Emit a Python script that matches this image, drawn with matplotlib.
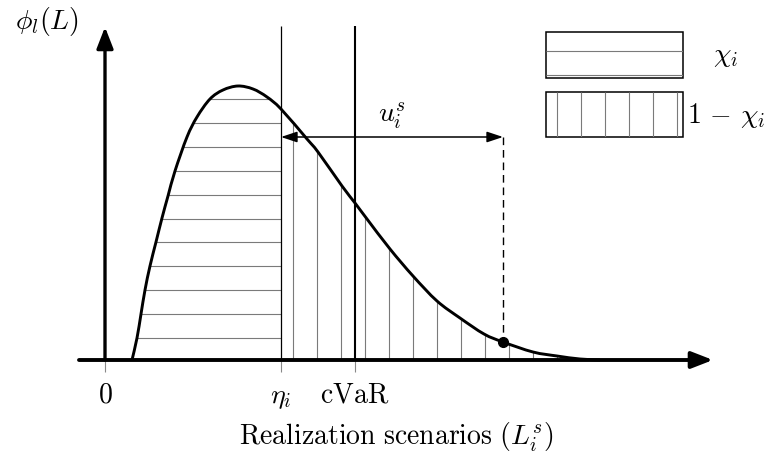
import numpy as np
import matplotlib
matplotlib.use('Agg')
from matplotlib import pyplot as plt
from matplotlib.patches import PathPatch, Rectangle
from matplotlib.path import Path

plt.rcParams['mathtext.fontset'] = 'cm'

# loss density curve (L, phi(L)), in picture units
loss = [27, 32, 36, 40, 45, 51, 57, 63, 70, 82, 92, 105, 118, 133, 148, 162, 176,
        202, 213, 237, 250, 262, 285, 308, 332, 355, 379, 398, 428, 452, 475, 495]
density = [0, 22, 46, 70, 94, 118, 142, 164, 189, 223, 243, 261, 270, 274, 271, 263, 251,
           221, 208, 174, 157, 141, 111, 84, 59, 42, 26, 18, 8, 4, 1, 0]

# marked positions on the loss axis
eta = 176
cvar = 250
u_loss = 398
u_density = 18
tick_pos = [0, eta, cvar]
tick_labels = [r'$0$', r'$\eta_i$', r'$\mathrm{cVaR}$']

# hatch grid (shared by the area under the curve and the legend swatches)
h_rows = np.arange(22, 340, 23.9)
v_cols = np.arange(188, 600, 24)
hatch_col = '#7a7a7a'


def smooth_path(xs, ys, close=False):
    # cubic bezier through the read points (catmull-rom tangents)
    p = np.column_stack([xs, ys]).astype(float)
    ext = np.vstack([p[0], p, p[-1]])
    verts = [p[0]]
    codes = [Path.MOVETO]
    for i in range(len(p) - 1):
        p0, p1, p2, p3 = ext[i], ext[i + 1], ext[i + 2], ext[i + 3]
        verts += [p1 + (p2 - p0) / 6, p2 - (p3 - p1) / 6, p2]
        codes += [Path.CURVE4] * 3
    if close:
        verts.append(p[0])
        codes.append(Path.CLOSEPOLY)
    return Path(verts, codes)


fig = plt.figure(figsize=(7.68, 4.56), dpi=100)
ax = fig.add_axes([0, 0, 1, 1])
ax.set_xlim(-105, 663)
ax.set_ylim(-95, 361)
ax.axis('off')

# area under the curve, used as clip path for the hatching
area = PathPatch(smooth_path(loss, density, close=True),
                 facecolor='none', edgecolor='none')
ax.add_patch(area)

hl = ax.hlines(h_rows, 0, eta, colors=hatch_col, lw=0.8, zorder=1)
hl.set_clip_path(area)
vl = ax.vlines(v_cols[v_cols > eta], 0, 300, colors=hatch_col, lw=0.8, zorder=1)
vl.set_clip_path(area)

# density curve
ax.add_patch(PathPatch(smooth_path(loss, density), facecolor='none',
                       edgecolor='black', lw=2.1, zorder=4))

# eta and cVaR lines
ax.vlines(eta, 0, 334, colors='black', lw=0.9, zorder=3)
ax.vlines(cvar, 0, 334, colors='black', lw=1.5, zorder=3)

# tick marks and labels
ax.vlines(tick_pos, -12, 0, colors='#888888', lw=0.8, zorder=2)
for x, lab in zip(tick_pos, tick_labels):
    ax.text(x, -42, lab, fontsize=20, ha='center', va='baseline')

# axes with arrow heads
ax.annotate('', xy=(608, 0), xytext=(-26, 0),
            arrowprops=dict(arrowstyle='-|>,head_length=0.9,head_width=0.35',
                            mutation_scale=14.4, lw=2.8, color='black',
                            shrinkA=0, shrinkB=0), zorder=5)
ax.annotate('', xy=(0, 333), xytext=(0, 0),
            arrowprops=dict(arrowstyle='-|>,head_length=0.9,head_width=0.35',
                            mutation_scale=14.4, lw=2.4, color='black',
                            shrinkA=0, shrinkB=0), zorder=5)

# u_i^s double arrow and dashed drop line
ax.annotate('', xy=(eta, 223), xytext=(u_loss, 223),
            arrowprops=dict(arrowstyle='<|-|>,head_length=0.9,head_width=0.3',
                            mutation_scale=10.8, lw=1.1, color='black',
                            shrinkA=0, shrinkB=0), zorder=5)
ax.plot([u_loss, u_loss], [223, u_density], color='black', lw=1,
        ls=(0, (5.5, 3.5)), zorder=3)
ax.plot(u_loss, u_density, 'o', ms=7, color='black', zorder=6)
ax.text(287, 245, r'$u_i^s$', fontsize=20, ha='center', va='center')

# legend swatches
box1 = Rectangle((441, 282), 137, 46, fill=False, lw=1.1, edgecolor='black')
box2 = Rectangle((441, 223), 137, 45, fill=False, lw=1.1, edgecolor='black')
ax.add_patch(box1)
ax.add_patch(box2)
lh = ax.hlines(h_rows, 441, 578, colors=hatch_col, lw=0.8)
lh.set_clip_path(box1)
lv = ax.vlines(v_cols, 223, 268, colors=hatch_col, lw=0.8)
lv.set_clip_path(box2)
ax.text(621, 306, r'$\chi_i$', fontsize=20, ha='center', va='center')
ax.text(621, 245, r'$1\,-\,\chi_i$', fontsize=20, ha='center', va='center')

# axis titles
ax.text(-58, 340, r'$\phi_l(L)$', fontsize=20, ha='center', va='center')
ax.text(291, -84, r'$\mathrm{Realization\ scenarios}\ (L_i^s)$',
        fontsize=20, ha='center', va='baseline')

fig.savefig('out.png', dpi=100)
